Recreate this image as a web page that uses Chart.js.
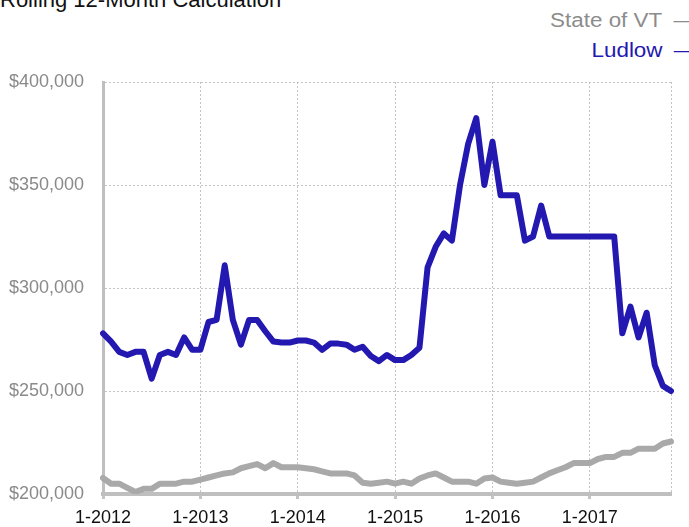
<!DOCTYPE html>
<html>
<head>
<meta charset="utf-8">
<script src="https://cdn.jsdelivr.net/npm/chart.js@4.4.1/dist/chart.umd.min.js"></script>
<style>
  html, body { margin: 0; padding: 0; background: #fff; }
  #wrap { position: relative; width: 689px; height: 527px; overflow: hidden; font-family: "Liberation Sans", Arial, sans-serif; }
  #title { position: absolute; left: 0; top: -11px; font-size: 22px; line-height: 22px; color: #111; white-space: nowrap; }
  .leg { position: absolute; right: 0; font-size: 20px; line-height: 22px; white-space: nowrap; transform: scaleX(1.12); transform-origin: right center; }
  .leg span { display: inline-block; width: 14px; margin-left: 10px; }
  #chartBox { position: absolute; left: 0; top: 0; width: 689px; height: 527px; }
</style>
</head>
<body>
<div id="wrap">
  <div id="title">Rolling 12-Month Calculation</div>
  <div class="leg" style="top:9px;color:#8c8c8c">State of VT<span>—</span></div>
  <div class="leg" style="top:39px;color:#2318b0">Ludlow<span>—</span></div>
  <div id="chartBox"><canvas id="myChart"></canvas></div>
</div>
<script>
// months Jan 2012 .. Nov 2017
var months = [];
for (let y = 2012; y <= 2017; y++) {
    for (let m = 1; m <= 12; m++) {
        if (y == 2017 && m > 11) break;
        months.push(m + '-' + y);
    }
}

var ludlow = [
    278000, 274000, 269000, 267500, 269000, 269000, 256000, 267500, 269000, 267500, 276000, 270000,
    270000, 283500, 284500, 311000, 284500, 272500, 284500, 284500, 279000, 274000, 273500, 273500,
    274500, 274500, 273500, 270000, 273000, 273000, 272500, 270000, 271500, 267000, 264500, 267500,
    265000, 265000, 267500, 271000, 310000, 320000, 326500, 323000, 350000, 370000, 382500, 350000,
    371000, 345000, 345000, 345000, 323000, 325000, 340000, 325000, 325000, 325000, 325000, 325000,
    325000, 325000, 325000, 325000, 278000, 291000, 276000, 288000, 262500, 252500, 250000
];

var stateVT = [
    207800, 205000, 205000, 203000, 201000, 202500, 202500, 205000, 205000, 205000, 206000, 206000,
    207000, 208000, 209000, 210000, 210500, 212500, 213500, 214500, 212500, 215000, 213000, 213000,
    213000, 212500, 212000, 211000, 210000, 210000, 210000, 209000, 205500, 205000, 205500, 206000,
    205000, 206000, 205000, 207500, 209000, 210000, 208000, 206000, 206000, 206000, 205000, 207500,
    208000, 206000, 205500, 205000, 205500, 206000, 208000, 210000, 211500, 213000, 215000, 215000,
    215000, 217000, 218000, 218000, 220000, 220000, 222000, 222000, 222000, 224500, 225500
];

var yTicks = [200000, 250000, 300000, 350000, 400000];

function isYearTick(i) {
    return months[i] && (months[i].split('-')[0] == '1' || i == months.length - 1);
}

var ctx = document.getElementById('myChart').getContext('2d');
var myChart = new Chart(ctx, {
    type: 'line',
    data: {
        labels: months,
        datasets: [{
            label: 'State of VT',
            data: stateVT,
            borderColor: '#a9a9a9',
            borderWidth: 6,
            pointRadius: 0,
            tension: 0,
            borderJoinStyle: 'round',
            borderCapStyle: 'round'
        }, {
            label: 'Ludlow',
            data: ludlow,
            borderColor: '#2318b0',
            borderWidth: 6,
            pointRadius: 0,
            tension: 0,
            borderJoinStyle: 'round',
            borderCapStyle: 'round'
        }]
    },
    options: {
        responsive: true,
        maintainAspectRatio: false,
        animation: false,
        layout: { padding: { top: 82, right: 18, left: 0, bottom: 0 } },
        plugins: { legend: { display: false }, tooltip: { enabled: false } },
        scales: {
            x: {
                offset: false,
                afterFit: function (s) { s.height = 33; },
                grid: {
                    color: function (c) { return isYearTick(c.index) ? '#c4c4c4' : 'rgba(0,0,0,0)'; },
                    tickColor: function (c) { return (isYearTick(c.index) && c.index != months.length - 1) ? '#c4c4c4' : 'rgba(0,0,0,0)'; },
                    lineWidth: 1,
                    tickWidth: 3,
                    tickLength: 5,
                    drawTicks: true
                },
                border: { display: true, color: '#bfbfbf', width: 4, dash: [2, 2] },
                ticks: {
                    autoSkip: false,
                    maxRotation: 0,
                    padding: 8,
                    color: '#111',
                    font: { family: '"Liberation Sans", Arial, sans-serif', size: 18 },
                    callback: function (v, i) {
                        var l = months[i];
                        return (l.split('-')[0] == '1') ? l : '';
                    }
                }
            },
            y: {
                min: 200000,
                max: 400000,
                afterFit: function (s) { s.width = 103; },
                afterBuildTicks: function (s) { s.ticks = yTicks.map(function (v) { return { value: v }; }); },
                grid: { color: '#c4c4c4', lineWidth: 1, drawTicks: false },
                border: { display: true, color: '#bfbfbf', width: 3, dash: [2, 2] },
                ticks: {
                    padding: 19,
                    color: '#8a8a8a',
                    font: { family: '"Liberation Sans", Arial, sans-serif', size: 18 },
                    callback: function (v) { return '$' + v.toLocaleString('en-US'); }
                }
            }
        }
    }
});
</script>
</body>
</html>
